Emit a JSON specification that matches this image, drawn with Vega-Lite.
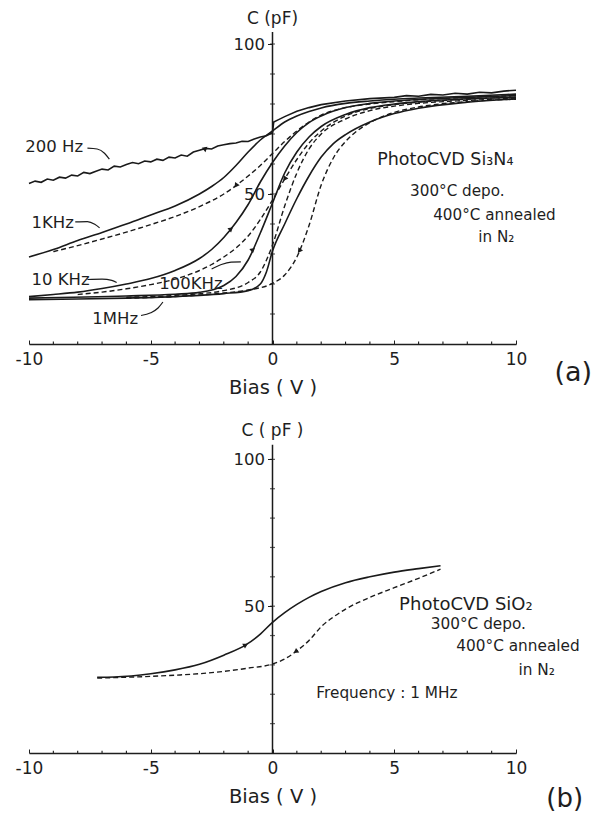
{
  "$schema": "https://vega.github.io/schema/vega-lite/v6.json",
  "background": "white",
  "padding": {"left": 15, "top": 9, "right": 4, "bottom": 2},
  "config": {
    "view": {"stroke": null},
    "font": "DejaVu Sans",
    "text": {"font": "DejaVu Sans", "color": "#1e1e1e"},
    "axis": {"grid": false, "labelFont": "DejaVu Sans", "titleFont": "DejaVu Sans", "labelColor": "#1e1e1e", "titleColor": "#1e1e1e", "domainColor": "#1e1e1e", "tickColor": "#1e1e1e"}
  },
  "datasets": {
    "noisyA": [
      {"x": -10, "c": 53.5}, {"x": -9.75, "c": 54.3}, {"x": -9.5, "c": 53.9}, {"x": -9.25, "c": 55.0}, {"x": -9, "c": 54.6},
      {"x": -8.75, "c": 55.6}, {"x": -8.5, "c": 55.3}, {"x": -8.25, "c": 56.3}, {"x": -8, "c": 56.0}, {"x": -7.75, "c": 57.2},
      {"x": -7.5, "c": 56.8}, {"x": -7.25, "c": 57.6}, {"x": -7, "c": 58.3}, {"x": -6.75, "c": 58.0}, {"x": -6.5, "c": 59.3},
      {"x": -6.25, "c": 59.0}, {"x": -6, "c": 59.8}, {"x": -5.75, "c": 60.5}, {"x": -5.5, "c": 60.1}, {"x": -5.25, "c": 61.0},
      {"x": -5, "c": 60.7}, {"x": -4.75, "c": 61.6}, {"x": -4.5, "c": 61.2}, {"x": -4.25, "c": 62.3}, {"x": -4, "c": 62.0},
      {"x": -3.75, "c": 63.0}, {"x": -3.5, "c": 62.6}, {"x": -3.25, "c": 64.0}, {"x": -3, "c": 64.6}, {"x": -2.75, "c": 65.2},
      {"x": -2.5, "c": 65.0}, {"x": -2.25, "c": 66.0}, {"x": -2, "c": 66.4}, {"x": -1.75, "c": 66.8}, {"x": -1.5, "c": 67.0},
      {"x": -1.25, "c": 67.6}, {"x": -1, "c": 67.5}, {"x": -0.75, "c": 68.3}, {"x": -0.5, "c": 69.0}, {"x": -0.25, "c": 69.4},
      {"x": 0, "c": 70.4}, {"x": 0.05, "c": 74.0}, {"x": 0.25, "c": 74.8}, {"x": 0.5, "c": 75.8}, {"x": 1, "c": 77.6},
      {"x": 1.5, "c": 78.8}, {"x": 2, "c": 79.8}, {"x": 3, "c": 81.0}, {"x": 4, "c": 81.8}, {"x": 5, "c": 82.2},
      {"x": 5.5, "c": 82.8}, {"x": 6, "c": 82.6}, {"x": 6.5, "c": 83.2}, {"x": 7, "c": 83.0}, {"x": 7.5, "c": 83.6},
      {"x": 8, "c": 83.3}, {"x": 8.5, "c": 83.9}, {"x": 9, "c": 83.7}, {"x": 9.5, "c": 84.3}, {"x": 10, "c": 84.6}
    ],
    "curvesA": [
      {"s": "1KHz", "dash": "solid", "x": -10, "c": 29.0}, {"s": "1KHz", "dash": "solid", "x": -9, "c": 31.5},
      {"s": "1KHz", "dash": "solid", "x": -8, "c": 34.5}, {"s": "1KHz", "dash": "solid", "x": -7, "c": 37.2},
      {"s": "1KHz", "dash": "solid", "x": -6, "c": 40.0}, {"s": "1KHz", "dash": "solid", "x": -5, "c": 43.0},
      {"s": "1KHz", "dash": "solid", "x": -4, "c": 46.0}, {"s": "1KHz", "dash": "solid", "x": -3, "c": 50.0},
      {"s": "1KHz", "dash": "solid", "x": -2.5, "c": 52.5}, {"s": "1KHz", "dash": "solid", "x": -2, "c": 55.5},
      {"s": "1KHz", "dash": "solid", "x": -1.5, "c": 59.5}, {"s": "1KHz", "dash": "solid", "x": -1, "c": 64.0},
      {"s": "1KHz", "dash": "solid", "x": -0.5, "c": 68.0}, {"s": "1KHz", "dash": "solid", "x": 0, "c": 71.0},
      {"s": "1KHz", "dash": "solid", "x": 0.5, "c": 74.0}, {"s": "1KHz", "dash": "solid", "x": 1, "c": 76.0},
      {"s": "1KHz", "dash": "solid", "x": 1.5, "c": 77.5}, {"s": "1KHz", "dash": "solid", "x": 2, "c": 78.7},
      {"s": "1KHz", "dash": "solid", "x": 3, "c": 80.2}, {"s": "1KHz", "dash": "solid", "x": 4, "c": 81.0},
      {"s": "1KHz", "dash": "solid", "x": 5, "c": 81.6}, {"s": "1KHz", "dash": "solid", "x": 6, "c": 82.0},
      {"s": "1KHz", "dash": "solid", "x": 8, "c": 82.6}, {"s": "1KHz", "dash": "solid", "x": 10, "c": 83.3},

      {"s": "1KHz", "dash": "dashed", "x": -9, "c": 30.8}, {"s": "1KHz", "dash": "dashed", "x": -8, "c": 32.8},
      {"s": "1KHz", "dash": "dashed", "x": -7, "c": 35.0}, {"s": "1KHz", "dash": "dashed", "x": -6, "c": 37.3},
      {"s": "1KHz", "dash": "dashed", "x": -5, "c": 39.8}, {"s": "1KHz", "dash": "dashed", "x": -4, "c": 42.5},
      {"s": "1KHz", "dash": "dashed", "x": -3, "c": 45.8}, {"s": "1KHz", "dash": "dashed", "x": -2, "c": 50.0},
      {"s": "1KHz", "dash": "dashed", "x": -1.5, "c": 52.8}, {"s": "1KHz", "dash": "dashed", "x": -1, "c": 56.0},
      {"s": "1KHz", "dash": "dashed", "x": -0.5, "c": 59.5}, {"s": "1KHz", "dash": "dashed", "x": 0, "c": 63.5},
      {"s": "1KHz", "dash": "dashed", "x": 0.5, "c": 67.5}, {"s": "1KHz", "dash": "dashed", "x": 1, "c": 71.0},
      {"s": "1KHz", "dash": "dashed", "x": 1.5, "c": 74.0}, {"s": "1KHz", "dash": "dashed", "x": 2, "c": 76.3},
      {"s": "1KHz", "dash": "dashed", "x": 3, "c": 78.8}, {"s": "1KHz", "dash": "dashed", "x": 4, "c": 80.0},
      {"s": "1KHz", "dash": "dashed", "x": 5, "c": 80.8}, {"s": "1KHz", "dash": "dashed", "x": 6, "c": 81.4},
      {"s": "1KHz", "dash": "dashed", "x": 8, "c": 82.2}, {"s": "1KHz", "dash": "dashed", "x": 10, "c": 82.8},

      {"s": "10KHz", "dash": "solid", "x": -10, "c": 15.8}, {"s": "10KHz", "dash": "solid", "x": -9, "c": 16.5},
      {"s": "10KHz", "dash": "solid", "x": -8, "c": 17.3}, {"s": "10KHz", "dash": "solid", "x": -7, "c": 18.5},
      {"s": "10KHz", "dash": "solid", "x": -6, "c": 20.0}, {"s": "10KHz", "dash": "solid", "x": -5, "c": 21.8},
      {"s": "10KHz", "dash": "solid", "x": -4, "c": 24.5}, {"s": "10KHz", "dash": "solid", "x": -3, "c": 28.5},
      {"s": "10KHz", "dash": "solid", "x": -2.5, "c": 31.5}, {"s": "10KHz", "dash": "solid", "x": -2, "c": 35.5},
      {"s": "10KHz", "dash": "solid", "x": -1.5, "c": 40.5}, {"s": "10KHz", "dash": "solid", "x": -1, "c": 46.5},
      {"s": "10KHz", "dash": "solid", "x": -0.5, "c": 54.0}, {"s": "10KHz", "dash": "solid", "x": 0, "c": 60.5},
      {"s": "10KHz", "dash": "solid", "x": 0.5, "c": 66.0}, {"s": "10KHz", "dash": "solid", "x": 1, "c": 70.5},
      {"s": "10KHz", "dash": "solid", "x": 1.5, "c": 73.8}, {"s": "10KHz", "dash": "solid", "x": 2, "c": 76.0},
      {"s": "10KHz", "dash": "solid", "x": 3, "c": 78.8}, {"s": "10KHz", "dash": "solid", "x": 4, "c": 80.2},
      {"s": "10KHz", "dash": "solid", "x": 5, "c": 81.0}, {"s": "10KHz", "dash": "solid", "x": 6, "c": 81.5},
      {"s": "10KHz", "dash": "solid", "x": 8, "c": 82.2}, {"s": "10KHz", "dash": "solid", "x": 10, "c": 82.8},

      {"s": "10KHz", "dash": "dashed", "x": -8, "c": 16.5}, {"s": "10KHz", "dash": "dashed", "x": -7, "c": 17.3},
      {"s": "10KHz", "dash": "dashed", "x": -6, "c": 18.4}, {"s": "10KHz", "dash": "dashed", "x": -5, "c": 19.8},
      {"s": "10KHz", "dash": "dashed", "x": -4, "c": 21.6}, {"s": "10KHz", "dash": "dashed", "x": -3, "c": 24.5},
      {"s": "10KHz", "dash": "dashed", "x": -2.5, "c": 26.5}, {"s": "10KHz", "dash": "dashed", "x": -2, "c": 29.0},
      {"s": "10KHz", "dash": "dashed", "x": -1.5, "c": 32.0}, {"s": "10KHz", "dash": "dashed", "x": -1, "c": 36.0},
      {"s": "10KHz", "dash": "dashed", "x": -0.5, "c": 41.5}, {"s": "10KHz", "dash": "dashed", "x": 0, "c": 48.0},
      {"s": "10KHz", "dash": "dashed", "x": 0.5, "c": 55.0}, {"s": "10KHz", "dash": "dashed", "x": 1, "c": 61.5},
      {"s": "10KHz", "dash": "dashed", "x": 1.5, "c": 67.0}, {"s": "10KHz", "dash": "dashed", "x": 2, "c": 71.0},
      {"s": "10KHz", "dash": "dashed", "x": 3, "c": 76.0}, {"s": "10KHz", "dash": "dashed", "x": 4, "c": 78.5},
      {"s": "10KHz", "dash": "dashed", "x": 5, "c": 79.8}, {"s": "10KHz", "dash": "dashed", "x": 6, "c": 80.6},
      {"s": "10KHz", "dash": "dashed", "x": 8, "c": 81.6}, {"s": "10KHz", "dash": "dashed", "x": 10, "c": 82.3},

      {"s": "100KHz", "dash": "solid", "x": -10, "c": 15.3}, {"s": "100KHz", "dash": "solid", "x": -6, "c": 16.0},
      {"s": "100KHz", "dash": "solid", "x": -4, "c": 16.6}, {"s": "100KHz", "dash": "solid", "x": -3, "c": 17.2},
      {"s": "100KHz", "dash": "solid", "x": -2, "c": 19.5}, {"s": "100KHz", "dash": "solid", "x": -1.5, "c": 22.5},
      {"s": "100KHz", "dash": "solid", "x": -1, "c": 28.0}, {"s": "100KHz", "dash": "solid", "x": -0.5, "c": 37.0},
      {"s": "100KHz", "dash": "solid", "x": 0, "c": 47.0}, {"s": "100KHz", "dash": "solid", "x": 0.5, "c": 57.0},
      {"s": "100KHz", "dash": "solid", "x": 1, "c": 64.0}, {"s": "100KHz", "dash": "solid", "x": 1.5, "c": 69.0},
      {"s": "100KHz", "dash": "solid", "x": 2, "c": 72.5}, {"s": "100KHz", "dash": "solid", "x": 3, "c": 76.5},
      {"s": "100KHz", "dash": "solid", "x": 4, "c": 78.8}, {"s": "100KHz", "dash": "solid", "x": 5, "c": 80.0},
      {"s": "100KHz", "dash": "solid", "x": 6, "c": 80.8}, {"s": "100KHz", "dash": "solid", "x": 8, "c": 81.7},
      {"s": "100KHz", "dash": "solid", "x": 10, "c": 82.2},

      {"s": "100KHz", "dash": "dashed", "x": -6, "c": 15.6}, {"s": "100KHz", "dash": "dashed", "x": -4, "c": 16.2},
      {"s": "100KHz", "dash": "dashed", "x": -2, "c": 17.8}, {"s": "100KHz", "dash": "dashed", "x": -1, "c": 20.5},
      {"s": "100KHz", "dash": "dashed", "x": -0.5, "c": 24.0}, {"s": "100KHz", "dash": "dashed", "x": 0, "c": 33.0},
      {"s": "100KHz", "dash": "dashed", "x": 0.5, "c": 46.0}, {"s": "100KHz", "dash": "dashed", "x": 1, "c": 57.0},
      {"s": "100KHz", "dash": "dashed", "x": 1.5, "c": 65.0}, {"s": "100KHz", "dash": "dashed", "x": 2, "c": 70.0},
      {"s": "100KHz", "dash": "dashed", "x": 3, "c": 75.0}, {"s": "100KHz", "dash": "dashed", "x": 4, "c": 77.8},
      {"s": "100KHz", "dash": "dashed", "x": 5, "c": 79.3}, {"s": "100KHz", "dash": "dashed", "x": 6, "c": 80.2},
      {"s": "100KHz", "dash": "dashed", "x": 8, "c": 81.2}, {"s": "100KHz", "dash": "dashed", "x": 10, "c": 81.9},

      {"s": "1MHz", "dash": "solid", "x": -10, "c": 14.8}, {"s": "1MHz", "dash": "solid", "x": -8, "c": 15.0},
      {"s": "1MHz", "dash": "solid", "x": -6, "c": 15.3}, {"s": "1MHz", "dash": "solid", "x": -4, "c": 15.8},
      {"s": "1MHz", "dash": "solid", "x": -3, "c": 16.2}, {"s": "1MHz", "dash": "solid", "x": -2, "c": 16.8},
      {"s": "1MHz", "dash": "solid", "x": -1, "c": 17.8}, {"s": "1MHz", "dash": "solid", "x": -0.5, "c": 20.0},
      {"s": "1MHz", "dash": "solid", "x": -0.25, "c": 24.0}, {"s": "1MHz", "dash": "solid", "x": 0, "c": 31.0},
      {"s": "1MHz", "dash": "solid", "x": 0.5, "c": 40.0}, {"s": "1MHz", "dash": "solid", "x": 1, "c": 48.5},
      {"s": "1MHz", "dash": "solid", "x": 1.5, "c": 56.0}, {"s": "1MHz", "dash": "solid", "x": 2, "c": 62.3},
      {"s": "1MHz", "dash": "solid", "x": 2.5, "c": 66.8}, {"s": "1MHz", "dash": "solid", "x": 3, "c": 69.8},
      {"s": "1MHz", "dash": "solid", "x": 4, "c": 74.0}, {"s": "1MHz", "dash": "solid", "x": 5, "c": 76.8},
      {"s": "1MHz", "dash": "solid", "x": 6, "c": 78.6}, {"s": "1MHz", "dash": "solid", "x": 8, "c": 80.6},
      {"s": "1MHz", "dash": "solid", "x": 10, "c": 81.7},

      {"s": "1MHz", "dash": "dashed", "x": -6, "c": 15.3}, {"s": "1MHz", "dash": "dashed", "x": -4, "c": 15.8},
      {"s": "1MHz", "dash": "dashed", "x": -2, "c": 17.0}, {"s": "1MHz", "dash": "dashed", "x": -1, "c": 18.0},
      {"s": "1MHz", "dash": "dashed", "x": 0, "c": 20.2}, {"s": "1MHz", "dash": "dashed", "x": 0.5, "c": 23.0},
      {"s": "1MHz", "dash": "dashed", "x": 1, "c": 29.0}, {"s": "1MHz", "dash": "dashed", "x": 1.5, "c": 39.5},
      {"s": "1MHz", "dash": "dashed", "x": 2, "c": 53.0}, {"s": "1MHz", "dash": "dashed", "x": 2.5, "c": 62.0},
      {"s": "1MHz", "dash": "dashed", "x": 3, "c": 67.5}, {"s": "1MHz", "dash": "dashed", "x": 3.5, "c": 71.2},
      {"s": "1MHz", "dash": "dashed", "x": 4, "c": 73.8}, {"s": "1MHz", "dash": "dashed", "x": 5, "c": 77.2},
      {"s": "1MHz", "dash": "dashed", "x": 6, "c": 79.0}, {"s": "1MHz", "dash": "dashed", "x": 8, "c": 80.8},
      {"s": "1MHz", "dash": "dashed", "x": 10, "c": 81.6}
    ],
    "arrowsA": [
      {"s": "200Hz", "sweep": "up", "x": -2.75, "c": 65.2},
      {"s": "10KHz", "sweep": "up", "x": -1.7, "c": 38.4},
      {"s": "100KHz", "sweep": "up", "x": -0.8, "c": 31.5},
      {"s": "1KHz", "sweep": "down", "x": -1.5, "c": 52.8},
      {"s": "10KHz", "sweep": "down", "x": 0.5, "c": 55.0},
      {"s": "1MHz", "sweep": "down", "x": 1.1, "c": 31.0}
    ],
    "leadersA": [
      {"s": "200Hz", "x": -7.6, "c": 65.3}, {"s": "200Hz", "x": -7.2, "c": 65.0}, {"s": "200Hz", "x": -6.9, "c": 63.6}, {"s": "200Hz", "x": -6.7, "c": 61.6},
      {"s": "1KHz", "x": -8.1, "c": 40.7}, {"s": "1KHz", "x": -7.6, "c": 40.8}, {"s": "1KHz", "x": -7.3, "c": 39.9}, {"s": "1KHz", "x": -7.1, "c": 38.7},
      {"s": "10KHz", "x": -7.6, "c": 21.5}, {"s": "10KHz", "x": -7.0, "c": 21.6}, {"s": "10KHz", "x": -6.6, "c": 21.2}, {"s": "10KHz", "x": -6.4, "c": 20.5},
      {"s": "100KHz", "x": -2.5, "c": 25.0}, {"s": "100KHz", "x": -2.1, "c": 26.5}, {"s": "100KHz", "x": -1.7, "c": 27.3}, {"s": "100KHz", "x": -1.3, "c": 27.4},
      {"s": "1MHz", "x": -5.4, "c": 9.5}, {"s": "1MHz", "x": -5.0, "c": 10.4}, {"s": "1MHz", "x": -4.7, "c": 12.0}, {"s": "1MHz", "x": -4.5, "c": 14.0}
    ],
    "textA": [
      {"t": "200 Hz", "x": -10.15, "c": 65.7},
      {"t": "1KHz", "x": -9.9, "c": 40.5},
      {"t": "10 KHz", "x": -9.9, "c": 21.4},
      {"t": "100KHz", "x": -4.65, "c": 20.0},
      {"t": "1MHz", "x": -7.4, "c": 8.3}
    ],
    "noteA": [
      {"t": "PhotoCVD  Si₃N₄", "x": 4.3, "c": 61.3, "k": "big"},
      {"t": "300°C depo.", "x": 5.65, "c": 51.0, "k": "small"},
      {"t": "400°C annealed", "x": 6.6, "c": 43.0, "k": "small"},
      {"t": "in N₂", "x": 8.45, "c": 35.7, "k": "small"}
    ],
    "curvesB": [
      {"dash": "solid", "x": -7.2, "c": 25.8}, {"dash": "solid", "x": -6.5, "c": 25.9}, {"dash": "solid", "x": -5, "c": 27.0},
      {"dash": "solid", "x": -4, "c": 28.3}, {"dash": "solid", "x": -3, "c": 30.2}, {"dash": "solid", "x": -2, "c": 33.3},
      {"dash": "solid", "x": -1.1, "c": 36.8}, {"dash": "solid", "x": -0.5, "c": 40.5}, {"dash": "solid", "x": 0, "c": 44.5},
      {"dash": "solid", "x": 0.5, "c": 47.8}, {"dash": "solid", "x": 1, "c": 50.6}, {"dash": "solid", "x": 1.5, "c": 53.0},
      {"dash": "solid", "x": 2, "c": 55.0}, {"dash": "solid", "x": 3, "c": 58.0}, {"dash": "solid", "x": 4, "c": 60.0},
      {"dash": "solid", "x": 5, "c": 61.6}, {"dash": "solid", "x": 6, "c": 62.8}, {"dash": "solid", "x": 6.9, "c": 63.8},
      {"dash": "dashed", "x": -7.2, "c": 25.5}, {"dash": "dashed", "x": -6, "c": 25.8}, {"dash": "dashed", "x": -5, "c": 26.1},
      {"dash": "dashed", "x": -4, "c": 26.5}, {"dash": "dashed", "x": -3, "c": 27.0}, {"dash": "dashed", "x": -2, "c": 27.8},
      {"dash": "dashed", "x": -1, "c": 28.9}, {"dash": "dashed", "x": 0, "c": 30.3}, {"dash": "dashed", "x": 0.5, "c": 32.0},
      {"dash": "dashed", "x": 1, "c": 34.8}, {"dash": "dashed", "x": 1.5, "c": 38.3}, {"dash": "dashed", "x": 2, "c": 43.0},
      {"dash": "dashed", "x": 2.5, "c": 46.3}, {"dash": "dashed", "x": 3, "c": 49.0}, {"dash": "dashed", "x": 4, "c": 53.0},
      {"dash": "dashed", "x": 5, "c": 56.3}, {"dash": "dashed", "x": 6, "c": 59.5}, {"dash": "dashed", "x": 6.9, "c": 62.6}
    ],
    "arrowsB": [
      {"sweep": "up", "x": -1.1, "c": 36.8},
      {"sweep": "down", "x": 0.95, "c": 34.5}
    ],
    "noteB": [
      {"t": "PhotoCVD  SiO₂", "x": 5.2, "c": 50.3, "k": "big"},
      {"t": "300°C depo.", "x": 6.5, "c": 44.0, "k": "small"},
      {"t": "400°C annealed", "x": 7.55, "c": 36.4, "k": "small"},
      {"t": "in N₂", "x": 10.1, "c": 28.4, "k": "small"},
      {"t": "Frequency : 1 MHz", "x": 1.8, "c": 20.3, "k": "small"}
    ],
    "yticks": [
      {"c": 10}, {"c": 20}, {"c": 30}, {"c": 40}, {"c": 50}, {"c": 60}, {"c": 70}, {"c": 80}, {"c": 90}, {"c": 100}
    ],
    "xminor": [
      {"x": -9}, {"x": -8}, {"x": -7}, {"x": -6}, {"x": -4}, {"x": -3}, {"x": -2}, {"x": -1},
      {"x": 1}, {"x": 2}, {"x": 3}, {"x": 4}, {"x": 6}, {"x": 7}, {"x": 8}, {"x": 9}
    ]
  },
  "vconcat": [
    {
      "width": 487,
      "height": 330,
      "layer": [
        {
          "data": {"name": "curvesA"},
          "transform": [{"filter": "datum.dash === 'solid'"}],
          "mark": {"type": "line", "color": "#1a1a1a", "strokeWidth": 1.6, "interpolate": "monotone"},
          "encoding": {
            "x": {"field": "x", "type": "quantitative", "scale": {"domain": [-10, 10]},
              "axis": {"values": [-10, -5, 0, 5, 10], "format": "d",
                "labelExpr": "toString(datum.value)",
                "labelOverlap": false, "labelFlush": false,
                "labelFontSize": 17, "labelPadding": 11, "tickSize": -4, "domainWidth": 1.5,
                "title": "Bias ( V )", "titleFontSize": 19.5, "titleFontWeight": "normal", "titlePadding": 11}},
            "y": {"field": "c", "type": "quantitative", "scale": {"domain": [0, 110]},
              "axis": {"values": [50, 100], "offset": -243.5, "domain": false, "tickSize": 5,
                "labelFontSize": 16.5, "labelPadding": 3, "title": null}},
            "detail": {"field": "s"}
          }
        },
        {
          "data": {"name": "curvesA"},
          "transform": [{"filter": "datum.dash === 'dashed'"}],
          "mark": {"type": "line", "color": "#1a1a1a", "strokeWidth": 1.4, "strokeDash": [5, 3], "interpolate": "monotone"},
          "encoding": {
            "x": {"field": "x", "type": "quantitative"},
            "y": {"field": "c", "type": "quantitative"},
            "detail": {"field": "s"}
          }
        },
        {
          "data": {"name": "noisyA"},
          "mark": {"type": "line", "color": "#1a1a1a", "strokeWidth": 1.6},
          "encoding": {
            "x": {"field": "x", "type": "quantitative"},
            "y": {"field": "c", "type": "quantitative"}
          }
        },
        {
          "data": {"name": "leadersA"},
          "mark": {"type": "line", "color": "#1a1a1a", "strokeWidth": 1.2, "interpolate": "monotone"},
          "encoding": {
            "x": {"field": "x", "type": "quantitative"},
            "y": {"field": "c", "type": "quantitative"},
            "detail": {"field": "s"}
          }
        },
        {
          "data": {"name": "arrowsA"},
          "transform": [{"filter": "datum.sweep === 'up'"}],
          "mark": {"type": "point", "shape": "triangle-up", "filled": true, "color": "#1a1a1a", "size": 32, "angle": 50, "opacity": 1},
          "encoding": {
            "x": {"field": "x", "type": "quantitative"},
            "y": {"field": "c", "type": "quantitative"}
          }
        },
        {
          "data": {"name": "arrowsA"},
          "transform": [{"filter": "datum.sweep === 'down'"}],
          "mark": {"type": "point", "shape": "triangle-up", "filled": true, "color": "#1a1a1a", "size": 32, "angle": 215, "opacity": 1},
          "encoding": {
            "x": {"field": "x", "type": "quantitative"},
            "y": {"field": "c", "type": "quantitative"}
          }
        },
        {
          "data": {"name": "xminor"},
          "mark": {"type": "rule", "color": "#1a1a1a", "strokeWidth": 1.1},
          "encoding": {
            "x": {"field": "x", "type": "quantitative"},
            "y": {"datum": 0, "type": "quantitative"},
            "y2": {"datum": 0.8}
          }
        },
        {
          "data": {"values": [{"x": 0, "c": 0, "c2": 104}]},
          "mark": {"type": "rule", "color": "#1a1a1a", "strokeWidth": 1.5},
          "encoding": {
            "x": {"field": "x", "type": "quantitative"},
            "y": {"field": "c", "type": "quantitative"},
            "y2": {"field": "c2"}
          }
        },
        {
          "data": {"name": "yticks"},
          "mark": {"type": "tick", "orient": "horizontal", "color": "#1a1a1a", "size": 5, "thickness": 1.2},
          "encoding": {
            "x": {"datum": 0, "type": "quantitative"},
            "y": {"field": "c", "type": "quantitative"}
          }
        },
        {
          "data": {"name": "textA"},
          "mark": {"type": "text", "align": "left", "baseline": "middle", "fontSize": 16.5},
          "encoding": {
            "x": {"field": "x", "type": "quantitative"},
            "y": {"field": "c", "type": "quantitative"},
            "text": {"field": "t"}
          }
        },
        {
          "data": {"name": "noteA"},
          "mark": {"type": "text", "align": "left", "baseline": "middle"},
          "encoding": {
            "x": {"field": "x", "type": "quantitative"},
            "y": {"field": "c", "type": "quantitative"},
            "text": {"field": "t"},
            "size": {"field": "k", "type": "nominal", "scale": {"domain": ["big", "small"], "range": [17.5, 15.2]}, "legend": null}
          }
        },
        {
          "data": {"values": [{"t": "C  (pF)", "x": 0, "c": 108.5}, {"t": "(a)", "x": 12.35, "c": -9.5}]},
          "mark": {"type": "text", "align": "center", "baseline": "middle"},
          "encoding": {
            "x": {"field": "x", "type": "quantitative"},
            "y": {"field": "c", "type": "quantitative"},
            "text": {"field": "t"},
            "size": {"field": "t", "type": "nominal", "scale": {"domain": ["C  (pF)", "(a)"], "range": [17, 27]}, "legend": null}
          }
        }
      ],
      "resolve": {"scale": {"size": "independent"}}
    },
    {
      "width": 487,
      "height": 323,
      "layer": [
        {
          "data": {"name": "curvesB"},
          "transform": [{"filter": "datum.dash === 'solid'"}],
          "mark": {"type": "line", "color": "#1a1a1a", "strokeWidth": 1.6, "interpolate": "monotone"},
          "encoding": {
            "x": {"field": "x", "type": "quantitative", "scale": {"domain": [-10, 10]},
              "axis": {"values": [-10, -5, 0, 5, 10], "format": "d",
                "labelExpr": "toString(datum.value)",
                "labelOverlap": false, "labelFlush": false,
                "labelFontSize": 17, "labelPadding": 11, "tickSize": -4, "domainWidth": 1.5,
                "title": "Bias ( V )", "titleFontSize": 19.5, "titleFontWeight": "normal", "titlePadding": 11}},
            "y": {"field": "c", "type": "quantitative", "scale": {"domain": [0, 110]},
              "axis": {"values": [50, 100], "offset": -243.5, "domain": false, "tickSize": 5,
                "labelFontSize": 16.5, "labelPadding": 3, "title": null}}
          }
        },
        {
          "data": {"name": "curvesB"},
          "transform": [{"filter": "datum.dash === 'dashed'"}],
          "mark": {"type": "line", "color": "#1a1a1a", "strokeWidth": 1.4, "strokeDash": [5, 3], "interpolate": "monotone"},
          "encoding": {
            "x": {"field": "x", "type": "quantitative"},
            "y": {"field": "c", "type": "quantitative"}
          }
        },
        {
          "data": {"name": "arrowsB"},
          "transform": [{"filter": "datum.sweep === 'up'"}],
          "mark": {"type": "point", "shape": "triangle-up", "filled": true, "color": "#1a1a1a", "size": 32, "angle": 60, "opacity": 1},
          "encoding": {
            "x": {"field": "x", "type": "quantitative"},
            "y": {"field": "c", "type": "quantitative"}
          }
        },
        {
          "data": {"name": "arrowsB"},
          "transform": [{"filter": "datum.sweep === 'down'"}],
          "mark": {"type": "point", "shape": "triangle-up", "filled": true, "color": "#1a1a1a", "size": 32, "angle": 235, "opacity": 1},
          "encoding": {
            "x": {"field": "x", "type": "quantitative"},
            "y": {"field": "c", "type": "quantitative"}
          }
        },
        {
          "data": {"name": "xminor"},
          "mark": {"type": "rule", "color": "#1a1a1a", "strokeWidth": 1.1},
          "encoding": {
            "x": {"field": "x", "type": "quantitative"},
            "y": {"datum": 0, "type": "quantitative"},
            "y2": {"datum": 0.8}
          }
        },
        {
          "data": {"values": [{"x": 0, "c": 0, "c2": 105}]},
          "mark": {"type": "rule", "color": "#1a1a1a", "strokeWidth": 1.5},
          "encoding": {
            "x": {"field": "x", "type": "quantitative"},
            "y": {"field": "c", "type": "quantitative"},
            "y2": {"field": "c2"}
          }
        },
        {
          "data": {"name": "yticks"},
          "mark": {"type": "tick", "orient": "horizontal", "color": "#1a1a1a", "size": 5, "thickness": 1.2},
          "encoding": {
            "x": {"datum": 0, "type": "quantitative"},
            "y": {"field": "c", "type": "quantitative"}
          }
        },
        {
          "data": {"name": "noteB"},
          "mark": {"type": "text", "align": "left", "baseline": "middle"},
          "encoding": {
            "x": {"field": "x", "type": "quantitative"},
            "y": {"field": "c", "type": "quantitative"},
            "text": {"field": "t"},
            "size": {"field": "k", "type": "nominal", "scale": {"domain": ["big", "small"], "range": [18, 15.3]}, "legend": null}
          }
        },
        {
          "data": {"values": [{"t": "C ( pF )", "x": 0, "c": 109.5}, {"t": "(b)", "x": 12.0, "c": -15.5}]},
          "mark": {"type": "text", "align": "center", "baseline": "middle"},
          "encoding": {
            "x": {"field": "x", "type": "quantitative"},
            "y": {"field": "c", "type": "quantitative"},
            "text": {"field": "t"},
            "size": {"field": "t", "type": "nominal", "scale": {"domain": ["C ( pF )", "(b)"], "range": [17, 26]}, "legend": null}
          }
        }
      ],
      "resolve": {"scale": {"size": "independent"}}
    }
  ],
  "spacing": 86,
  "bounds": "flush"
}
